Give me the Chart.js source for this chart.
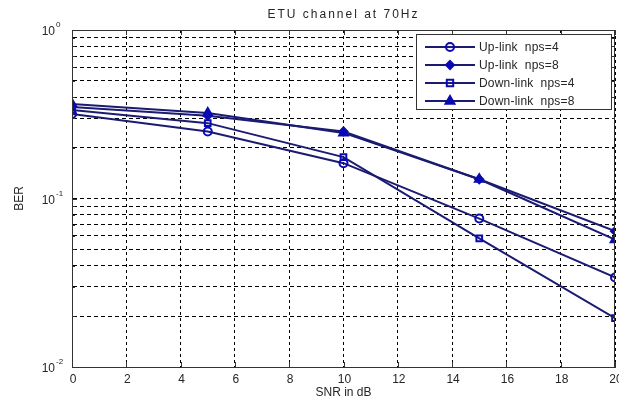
<!DOCTYPE html>
<html>
<head>
<meta charset="utf-8">
<script src="https://cdn.jsdelivr.net/npm/chart.js@4.4.1/dist/chart.umd.min.js"></script>
<style>
  html, body { margin: 0; padding: 0; background: #fff; overflow: hidden; }
  #wrap { width: 622px; height: 405px; }
</style>
</head>
<body>
<div id="wrap"><canvas id="ber-chart"></canvas></div>
<script>
// BER vs SNR, ETU channel at 70Hz
const chartTitle = "ETU channel at 70Hz"
const snrDb = [0, 5, 10, 15, 20]
const upLinkNps4 = [0.317, 0.25, 0.162, 0.076, 0.034]
const upLinkNps8 = [0.349, 0.31, 0.25, 0.13, 0.064]
const downLinkNps4 = [0.335, 0.28, 0.176, 0.058, 0.0195]
const downLinkNps8 = [0.364, 0.322, 0.245, 0.13, 0.057]
const seriesLabels = ["Up-link  nps=4", "Up-link  nps=8", "Down-link  nps=4", "Down-link  nps=8"]
const xTickValues = [0, 2, 4, 6, 8, 10, 12, 14, 16, 18, 20]
const yDecades = [0.01, 0.1, 1]
const yDecadeExponents = ["-2", "-1", "0"]

const FONT = "'Liberation Sans', Arial, sans-serif"
const LINE = "#1b1b72"
const MARK = "#0a0ab4"
const TEXT = "#262626"

// every 1..9 step of each decade, used for the log grid
const yGridValues = []
yDecades.slice(0, -1).forEach(d => {
  for (let k = 1; k <= 9; k++) yGridValues.push(+(d * k).toPrecision(3))
})
yGridValues.push(yDecades[yDecades.length - 1])

const markerStyles = [
  { style: "circle", radius: 4, fill: false },
  { style: "rectRot", radius: 4, fill: true },
  { style: "rect", radius: 4, fill: false },
  { style: "triangle", radius: 5, fill: true }
]

function makeDataset(label, values, marker) {
  return {
    label,
    data: snrDb.map((x, i) => ({ x, y: values[i] })),
    borderColor: LINE,
    borderWidth: 2,
    backgroundColor: LINE,
    pointStyle: marker.style,
    pointRadius: marker.radius,
    pointBorderWidth: 2,
    pointBorderColor: MARK,
    pointBackgroundColor: marker.fill ? MARK : "rgba(0,0,0,0)",
    tension: 0
  }
}

// small marker painter for the legend samples
function drawMarker(ctx, marker, x, y) {
  const r = marker.radius
  ctx.save()
  ctx.lineWidth = 2
  ctx.strokeStyle = MARK
  ctx.fillStyle = MARK
  ctx.beginPath()
  if (marker.style === "circle") {
    ctx.arc(x, y, r, 0, Math.PI * 2)
  } else if (marker.style === "rect") {
    ctx.rect(x - r * 0.8, y - r * 0.8, r * 1.6, r * 1.6)
  } else if (marker.style === "rectRot") {
    ctx.moveTo(x, y - r); ctx.lineTo(x + r, y); ctx.lineTo(x, y + r); ctx.lineTo(x - r, y); ctx.closePath()
  } else if (marker.style === "triangle") {
    ctx.moveTo(x, y - r); ctx.lineTo(x + r * 0.9, y + r * 0.55); ctx.lineTo(x - r * 0.9, y + r * 0.55); ctx.closePath()
  }
  if (marker.fill) ctx.fill()
  ctx.stroke()
  ctx.restore()
}

function text(ctx, str, x, y, size, align, spacing) {
  ctx.font = size + "px " + FONT
  ctx.letterSpacing = (spacing || 0) + "px"
  ctx.textAlign = align
  ctx.textBaseline = "middle"
  ctx.fillText(str, x, y)
  ctx.letterSpacing = "0px"
}

// title, box, inner ticks, tick labels and the legend
const matlabFrame = {
  id: "matlabFrame",
  afterDraw(chart) {
    const { ctx, chartArea: a, scales } = chart
    const xs = scales.x, ys = scales.y
    ctx.save()

    ctx.fillStyle = TEXT
    text(ctx, chartTitle, (a.left + a.right) / 2, 15, 12, "center", 2)

    ctx.strokeStyle = "#333"
    ctx.lineWidth = 1
    ctx.strokeRect(a.left + 0.5, a.top + 0.5, a.right - a.left - 1, a.bottom - a.top)

    ctx.beginPath()
    xTickValues.forEach(v => {
      const px = Math.round(xs.getPixelForValue(v)) + 0.5
      ctx.moveTo(px, a.bottom); ctx.lineTo(px, a.bottom - 5)
      ctx.moveTo(px, a.top); ctx.lineTo(px, a.top + 5)
    })
    yGridValues.forEach(v => {
      const py = Math.round(ys.getPixelForValue(v)) + 0.5
      const len = yDecades.includes(v) ? 5 : 3
      ctx.moveTo(a.left, py); ctx.lineTo(a.left + len, py)
      ctx.moveTo(a.right, py); ctx.lineTo(a.right - len, py)
    })
    ctx.stroke()

    xTickValues.forEach(v => {
      text(ctx, String(v), xs.getPixelForValue(v) + 1, a.bottom + 13, 12, "center")
    })
    yDecades.forEach((v, i) => {
      const py = ys.getPixelForValue(v)
      text(ctx, "10", a.left - 17, py + 2, 12, "right")
      text(ctx, yDecadeExponents[i], a.left - 16, py - 5, 8, "left")
    })

    // legend box in the upper right corner
    const lx = 416, ly = 34, lw = 195, lh = 75
    ctx.fillStyle = "#fff"
    ctx.fillRect(lx, ly, lw, lh)
    ctx.strokeStyle = "#333"
    ctx.strokeRect(lx + 0.5, ly + 0.5, lw, lh)
    chart.data.datasets.forEach((ds, i) => {
      const y = ly + 13 + i * 18
      ctx.strokeStyle = LINE
      ctx.lineWidth = 2
      ctx.beginPath()
      ctx.moveTo(lx + 9, y); ctx.lineTo(lx + 59, y)
      ctx.stroke()
      drawMarker(ctx, markerStyles[i], lx + 34, y)
      ctx.fillStyle = TEXT
      text(ctx, ds.label, lx + 63, y + 1, 12, "left", 0.2)
    })
    ctx.restore()
  }
}

new Chart(document.getElementById("ber-chart"), {
  type: "line",
  data: {
    datasets: [
      makeDataset(seriesLabels[0], upLinkNps4, markerStyles[0]),
      makeDataset(seriesLabels[1], upLinkNps8, markerStyles[1]),
      makeDataset(seriesLabels[2], downLinkNps4, markerStyles[2]),
      makeDataset(seriesLabels[3], downLinkNps8, markerStyles[3])
    ]
  },
  options: {
    responsive: true,
    maintainAspectRatio: false,
    animation: false,
    layout: { padding: { top: 30, right: 3, left: 0, bottom: 0 } },
    plugins: {
      legend: { display: false },
      tooltip: { enabled: false }
    },
    scales: {
      x: {
        type: "linear",
        min: 0,
        max: 20,
        afterBuildTicks: scale => { scale.ticks = xTickValues.map(v => ({ value: v })) },
        afterFit: scale => { scale.height = 38 },
        grid: { color: "#000", lineWidth: 1, drawTicks: false },
        border: { display: true, color: "#333", dash: [3, 3] },
        ticks: { display: false },
        title: { display: true, text: "SNR in dB", color: TEXT, font: { family: FONT, size: 12 }, padding: { top: 0, bottom: 5 } }
      },
      y: {
        type: "logarithmic",
        min: 0.01,
        max: 1,
        afterBuildTicks: scale => { scale.ticks = yGridValues.map(v => ({ value: v })) },
        afterFit: scale => { scale.width = 72 },
        grid: { color: "#000", lineWidth: 1, drawTicks: false },
        border: { display: true, color: "#333", dash: [4, 3] },
        ticks: { display: false },
        title: { display: true, text: "BER", color: TEXT, font: { family: FONT, size: 12 }, padding: { top: 12, bottom: 0 } }
      }
    }
  },
  plugins: [matlabFrame]
})
</script>
</body>
</html>
